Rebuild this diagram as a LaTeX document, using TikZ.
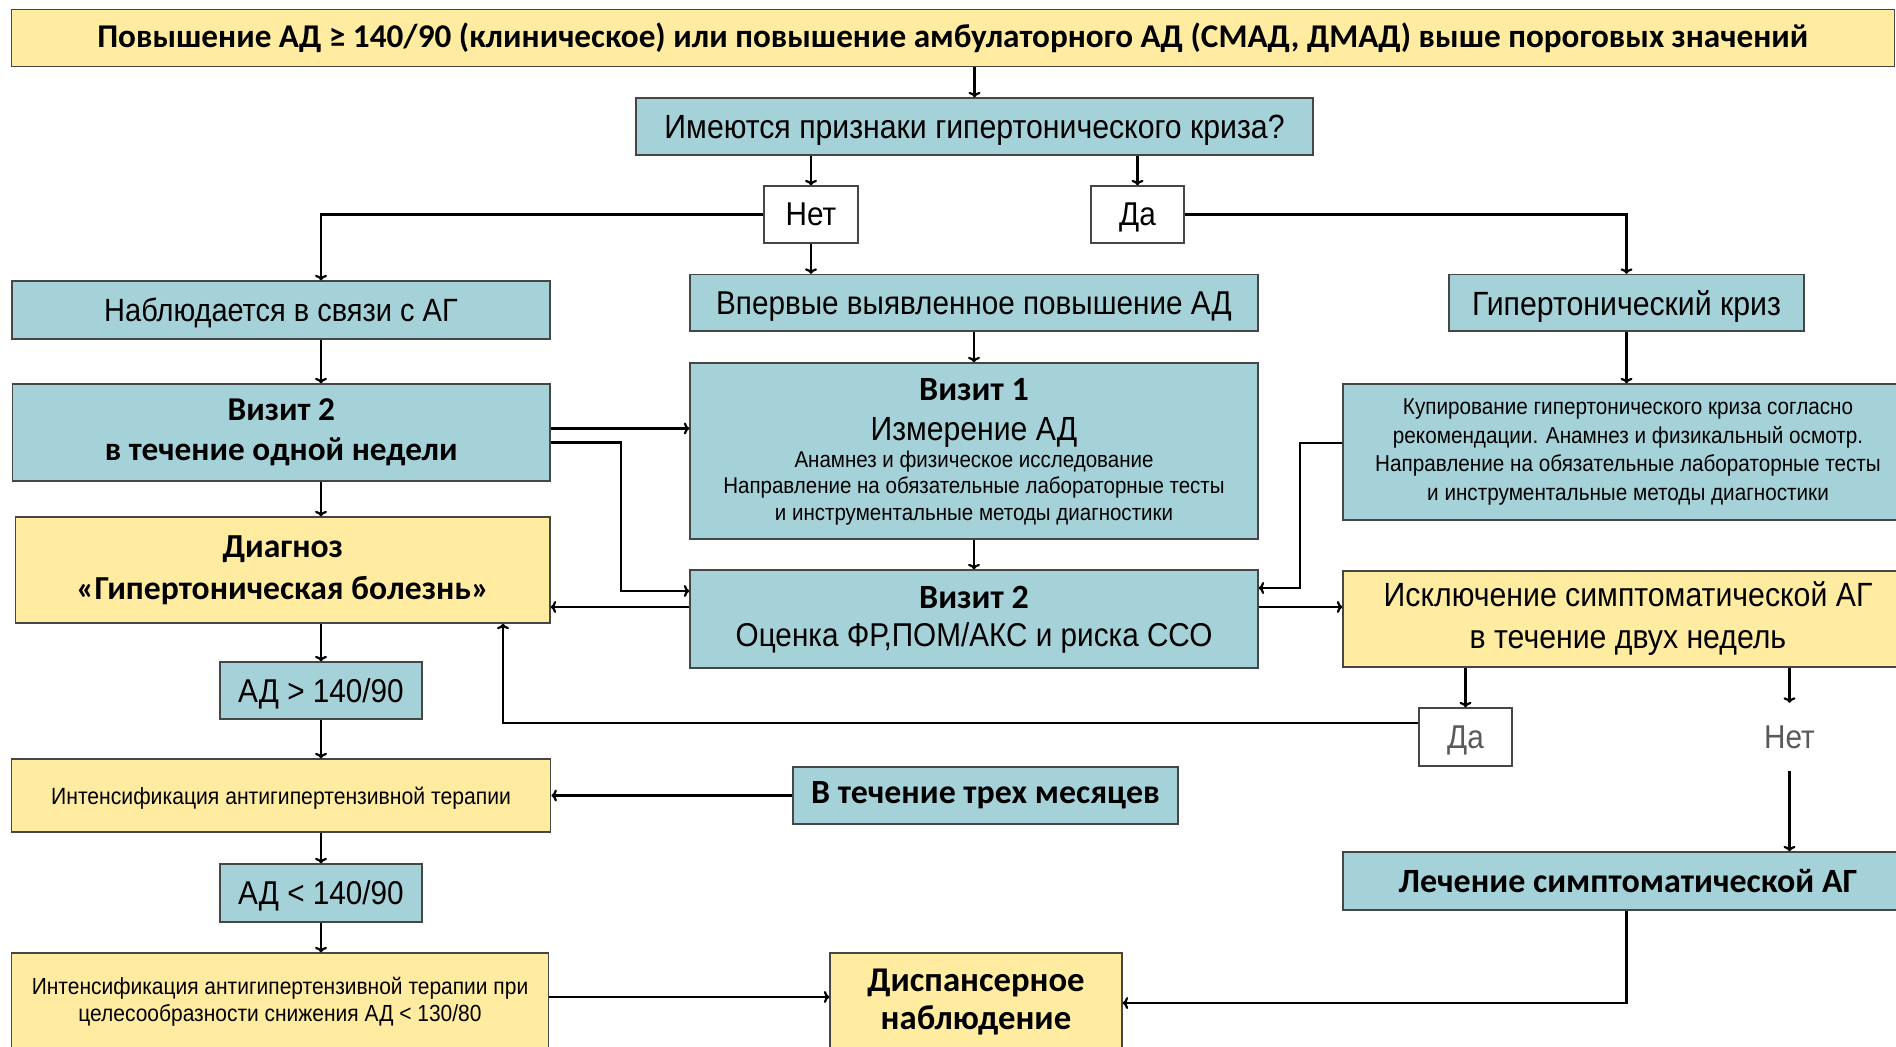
\documentclass[tikz,border=0pt]{standalone}
\usepackage{fontspec}
\setmainfont{Liberation Sans}
\newfontfamily\nar[FakeStretch=0.90]{Liberation Sans}
\newfontfamily\calfont{Carlito}
\usetikzlibrary{calc,arrows.meta}
\definecolor{cteal}{RGB}{165,210,216}
\definecolor{cyel}{RGB}{255,236,161}
\definecolor{cbord}{RGB}{70,70,70}
\newcommand\fsz[2]{\fontsize{#1}{#2}\selectfont}
\begin{document}
\begin{tikzpicture}[x=1pt,y=-1pt,
  box/.style={draw=cbord,line width=1.3pt,inner sep=0pt,align=center},
  tbox/.style={box,fill=cteal},
  ybox/.style={box,fill=cyel},
  wbox/.style={box,fill=white},
  low/.style={text depth=0pt},
  txt/.style={inner sep=0pt,align=center},
  arr/.style={line width=2.2pt,-{To[length=5.5pt,width=12pt]}}]
\clip (0,0) rectangle (1896,1047);
\fill[white] (0,0) rectangle (1896,1047);
% nodes
\node[ybox,minimum width=1883pt,minimum height=57pt,font={\calfont\bfseries\fsz{33.2}{38}}] (top) at (952.75,38) {Повышение АД ≥ 140/90 (клиническое) или повышение амбулаторного АД (СМАД, ДМАД) выше пороговых значений};
\node[tbox,low,minimum width=677pt,minimum height=57pt,font={\nar\fsz{33.6}{38}}] (q) at (974.5,126.5) {Имеются признаки гипертонического криза?};
\node[wbox,low,minimum width=94pt,minimum height=57pt,font={\nar\fsz{33}{38}}] (net1) at (811,214.5) {Нет};
\node[wbox,low,minimum width=93pt,minimum height=57pt,font={\nar\fsz{33}{38}}] (da1) at (1137.5,214.5) {Да};
\node[tbox,low,minimum width=538pt,minimum height=58pt,font={\nar\fsz{32.2}{38}}] (nabl) at (281,310) {Наблюдается в связи с АГ};
\node[tbox,low,minimum width=568pt,minimum height=56.5pt,font={\nar\fsz{33}{38}}] (vperv) at (974,302.75) {Впервые выявленное повышение АД};
\node[tbox,low,minimum width=355pt,minimum height=56.5pt,font={\nar\fsz{33.6}{38}}] (gk) at (1626.5,302.75) {Гипертонический криз};
\node[tbox,minimum width=537.5pt,minimum height=97pt,font={\calfont\bfseries\fsz{33.3}{40}}] (viz2l) at (281.25,432.5) {Визит 2\\в течение одной недели};
\node[tbox,minimum width=568pt,minimum height=176pt] (viz1) at (974,451) {};
\node[txt,font={\calfont\bfseries\fsz{34}{38}}] at ($(viz1.center)+(0,-61)$) {Визит 1};
\node[txt,font={\nar\fsz{33.5}{38}}] at ($(viz1.center)+(0,-19)$) {Измерение АД};
\node[txt,font={\nar\fsz{22.8}{26.5}}] at ($(viz1.center)+(0,37)$) {Анамнез и физическое исследование\\Направление на обязательные лабораторные тесты\\и инструментальные методы диагностики};
\node[tbox,minimum width=570pt,minimum height=136pt,font={\nar\fsz{23}{28.5}}] (kup) at (1628,452) {Купирование гипертонического криза согласно\\рекомендации. Анамнез и физикальный осмотр.\\Направление на обязательные лабораторные тесты\\и инструментальные методы диагностики};
\node[ybox,minimum width=534.4pt,minimum height=106pt,font={\calfont\bfseries\fsz{33.6}{42}}] (diag) at (282.8,570) {Диагноз\\«Гипертоническая болезнь»};
\node[tbox,minimum width=568pt,minimum height=98pt] (viz2) at (974,619) {};
\node[txt,font={\calfont\bfseries\fsz{34}{38}}] at ($(viz2.center)+(0,-22)$) {Визит 2};
\node[txt,font={\nar\fsz{33}{38}}] at ($(viz2.center)+(0,19)$) {Оценка ФР,ПОМ/АКС и риска ССО};
\node[ybox,minimum width=570pt,minimum height=96pt,font={\nar\fsz{33.6}{42}}] (iskl) at (1628,619) {Исключение симптоматической АГ\\в течение двух недель};
\node[tbox,low,minimum width=202pt,minimum height=57pt,font={\nar\fsz{33}{38}}] (ad1) at (321,690.5) {АД > 140/90};
\node[wbox,low,minimum width=93pt,minimum height=58pt,font={\nar\fsz{33}{38}},text=black!65] (da2) at (1465.5,737) {Да};
\node[txt,low,minimum height=68pt,font={\nar\fsz{33}{38}},text=black!65] (net2) at (1789.5,737) {Нет};
\node[ybox,low,minimum width=539.5pt,minimum height=73pt,font={\nar\fsz{23.5}{27}}] (int1) at (281,795.5) {Интенсификация антигипертензивной терапии};
\node[tbox,minimum width=385pt,minimum height=57pt,font={\calfont\bfseries\fsz{33.9}{38}}] (trex) at (985.5,795.5) {В течение трех месяцев};
\node[tbox,low,minimum width=202pt,minimum height=58pt,font={\nar\fsz{33}{38}}] (ad2) at (321,893) {АД < 140/90};
\node[tbox,minimum width=570pt,minimum height=58pt,font={\calfont\bfseries\fsz{34}{38}}] (lech) at (1628,881) {Лечение симптоматической АГ};
\node[ybox,minimum width=537.5pt,minimum height=98pt,font={\nar\fsz{23.3}{27}}] (int2) at (280,1002) {Интенсификация антигипертензивной терапии при\\целесообразности снижения АД < 130/80};
\node[ybox,minimum width=292pt,minimum height=98pt,font={\calfont\bfseries\fsz{34.7}{38}}] (disp) at (976,1002) {Диспансерное\\наблюдение};
% helper columns
\coordinate (cL) at (321,0);
\coordinate (cD) at (503,0);
\coordinate (cK) at (1300,0);
% connectors
\draw[arr] (q.north |- top.south) -- (q.north);
\draw[arr] (net1.north |- q.south) -- (net1.north);
\draw[arr] (da1.north |- q.south) -- (da1.north);
\draw[arr] (net1.west) -| (cL |- nabl.north);
\draw[arr] (net1.south) -- (net1.south |- vperv.north);
\draw[arr] (da1.east) -| (gk.north);
\draw[arr] (cL |- nabl.south) -- (cL |- viz2l.north);
\draw[arr] (cL |- viz2l.south) -- (cL |- diag.north);
\draw[arr] (vperv.south) -- (viz1.north);
\draw[arr] (gk.south) -- (gk.south |- kup.north);
\draw[arr] (viz1.south) -- (viz2.north);
\path ($(viz2l.east)+(0,-4)$) coordinate (p1);
\draw[arr] (p1) -- (p1 -| viz1.west);
\path ($(viz2l.east)+(0,10)$) coordinate (p2);
\path ($(viz2.west)+(0,-28)$) coordinate (p3);
\draw[arr] (p2) -- ++(70,0) |- (p3);
\path ($(viz2.west)+(0,-12)$) coordinate (p4);
\draw[arr] (p4) -- (p4 -| diag.east);
\path ($(kup.west)+(0,-9)$) coordinate (p5);
\path ($(viz2.east)+(0,-31)$) coordinate (p6);
\draw[arr] (p5) -| (cK |- p6) -- (p6);
\path ($(viz2.east)+(0,-12)$) coordinate (p7);
\draw[arr] (p7) -- (p7 -| iskl.west);
\draw[arr] (da2.north |- iskl.south) -- (da2.north);
\draw[arr] (net2.north |- iskl.south) -- (net2.north);
\draw[arr] (net2.south) -- (net2.south |- lech.north);
\path ($(da2.west)+(0,-14)$) coordinate (p8);
\draw[arr] (p8) -| (cD |- diag.south);
\draw[arr] (cL |- diag.south) -- (cL |- ad1.north);
\draw[arr] (ad1.south) -- (cL |- int1.north);
\draw[arr] (cL |- int1.south) -- (ad2.north);
\draw[arr] (ad2.south) -- (cL |- int2.north);
\draw[arr] (trex.west) -- (trex.west -| int1.east);
\path ($(int2.east)+(0,-5)$) coordinate (p9);
\draw[arr] (p9) -- (p9 -| disp.west);
\path ($(disp.east)+(0,1)$) coordinate (p10);
\draw[arr] (lech.south -| gk.south) |- (p10);
\end{tikzpicture}
\end{document}
